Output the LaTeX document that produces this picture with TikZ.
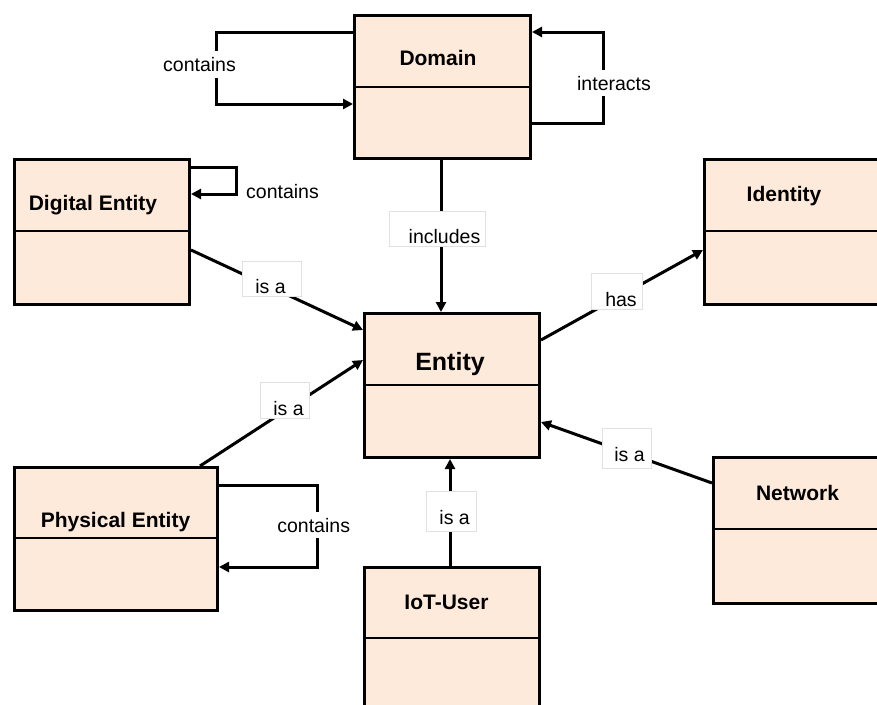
\documentclass[tikz,border=0pt]{standalone}
\usepackage{fontspec}
\setmainfont{Liberation Sans}
\usetikzlibrary{arrows.meta,calc}
\definecolor{peach}{RGB}{253,234,218}
\definecolor{lblgray}{RGB}{225,225,225}
\tikzset{
  cls/.style={draw=black, fill=peach, line width=3pt, rectangle, anchor=north west, inner sep=0pt},
  divider/.style={line width=2pt},
  conn/.style={line width=3pt, -{Triangle[length=10pt,width=10pt]}},
  lblbox/.style={fill=white, draw=lblgray, line width=0.6pt, inner sep=0pt, rectangle},
  lbl/.style={anchor=base, inner sep=0pt, font=\fontsize{19.5}{22}\selectfont},
  lblw/.style={anchor=base, fill=white, inner xsep=2pt, inner ysep=6pt, font=\fontsize{19.5}{22}\selectfont},
  ttl/.style={anchor=base, inner sep=0pt, font=\fontsize{21}{24}\selectfont\bfseries},
}
\begin{document}
\begin{tikzpicture}[x=1pt,y=-1pt]
\useasboundingbox (0,0) rectangle (877,704);
\clip (0,0) rectangle (877,704);

% class boxes
\node[cls, minimum width=176pt, minimum height=143pt] (dom) at (353,14) {};
\node[cls, minimum width=175pt, minimum height=145pt] (dig) at (13,158) {};
\node[cls, minimum width=190pt, minimum height=145pt] (idn) at (703,158) {};
\node[cls, minimum width=175pt, minimum height=144pt] (ent) at (363,312) {};
\node[cls, minimum width=203pt, minimum height=143pt] (phy) at (13,466) {};
\node[cls, minimum width=190pt, minimum height=146pt] (net) at (712,456) {};
\node[cls, minimum width=175pt, minimum height=160pt] (iot) at (363,566) {};

% dividers
\draw[divider] (dom.west |- 0,87) -- (dom.east |- 0,87);
\draw[divider] (dig.west |- 0,231) -- (dig.east |- 0,231);
\draw[divider] (idn.west |- 0,231) -- (idn.east |- 0,231);
\draw[divider] (ent.west |- 0,385) -- (ent.east |- 0,385);
\draw[divider] (phy.west |- 0,538) -- (phy.east |- 0,538);
\draw[divider] (net.west |- 0,529) -- (net.east |- 0,529);
\draw[divider] (iot.west |- 0,638) -- (iot.east |- 0,638);

% titles
\node[ttl] (tdom) at (438,65) {Domain};
\node[ttl] (tdig) at (93,210) {Digital Entity};
\node[ttl] (tidn) at (784,201.5) {Identity};
\node[ttl, font=\fontsize{25}{28}\selectfont\bfseries] (tent) at (450,370) {Entity};
\node[ttl] (tphy) at (115.5,527) {Physical Entity};
\node[ttl] (tnet) at (797.5,500) {Network};
\node[ttl] (tiot) at (446.5,609) {IoT-User};

% self loops
\draw[conn] (dom.west |- 0,32) -- (216,32) -- (216,104) -- (dom.west |- 0,104);
\node[lblw] (lc1) at (199.5,71.5) {contains};
\draw[conn] (dom.east |- 0,123) -- (603,123) -- (603,32) -- (dom.east |- 0,32);
\node[lblw] (lint) at (614,90) {interacts};
\draw[conn] (dig.east |- 0,167) -- (236,167) -- (236,194) -- (dig.east |- 0,194);
\node[lbl] (lc2) at (282.5,198) {contains};
\draw[conn] (phy.east |- 0,485) -- (317,485) -- (317,567) -- (phy.east |- 0,567);
\node[lblw] (lc3) at (313.7,532) {contains};

% associations
\draw[conn] (dig.east |- 0,250) -- (ent.west |- 0,330);
\node[lblbox, minimum width=59pt, minimum height=35pt] (b1) at (271.5,278.5) {};
\node[lbl] (l1) at (270.5,293) {is a};

\draw[conn] (441,0 |- dom.south) -- (441,0 |- ent.north);
\node[lblbox, minimum width=96pt, minimum height=35pt] (b2) at (437,228.5) {};
\node[lbl] (l2) at (444.5,243) {includes};

\draw[conn] (ent.east |- 0,340) -- (idn.west |- 0,250);
\node[lblbox, minimum width=51pt, minimum height=36pt] (b3) at (616.5,291) {};
\node[lbl] (l3) at (621,306) {has};

\draw[conn] (200,0 |- phy.north) -- (ent.west |- 0,360);
\node[lblbox, minimum width=49pt, minimum height=36pt] (b4) at (284.5,400) {};
\node[lbl] (l4) at (288.5,415) {is a};

\draw[conn] (net.west |- 0,483) -- (ent.east |- 0,422);
\node[lblbox, minimum width=49pt, minimum height=40pt] (b5) at (626.5,448) {};
\node[lbl] (l5) at (629.5,461) {is a};

\draw[conn] (450,0 |- iot.north) -- (450,0 |- ent.south);
\node[lblbox, minimum width=50pt, minimum height=40pt] (b6) at (451,511) {};
\node[lbl] (l6) at (454.6,524) {is a};
\end{tikzpicture}
\end{document}
